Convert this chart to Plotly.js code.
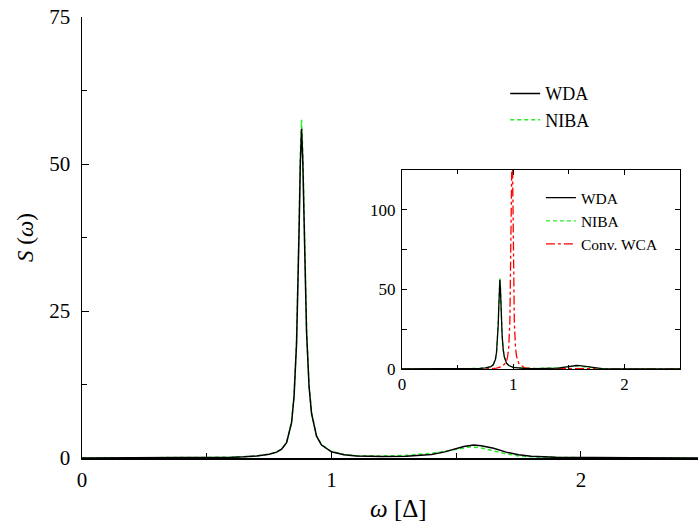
<!DOCTYPE html>
<html>
<head>
<meta charset="utf-8">
<script src="https://cdn.plot.ly/plotly-3.0.1.min.js"></script>
<style>html,body{margin:0;padding:0;background:#fff;}#plot{width:698px;height:523px;}</style>
</head>
<body>
<div id="plot"></div>
<script>
// WDA spectrum
const wdaX = [0, 0.2, 0.4, 0.5, 0.6, 0.65, 0.7, 0.75, 0.78, 0.8, 0.82, 0.84, 0.85, 0.86, 0.865, 0.87, 0.875, 0.88, 0.885, 0.89, 0.895, 0.9, 0.91, 0.92, 0.94, 0.96, 1.0, 1.05, 1.1, 1.2, 1.3, 1.35, 1.4, 1.45, 1.5, 1.53, 1.57, 1.6, 1.65, 1.7, 1.75, 1.8, 1.9, 2.0, 2.2, 2.5];
const wdaY = [0, 0, 0.02, 0.05, 0.12, 0.2, 0.35, 0.65, 1.0, 1.5, 2.6, 6.0, 10.5, 19.5, 27.5, 38.5, 50, 56, 50.5, 39.5, 29, 21.5, 12.2, 7.6, 3.7, 2.2, 1.05, 0.55, 0.35, 0.25, 0.3, 0.4, 0.6, 1.0, 1.6, 1.95, 2.2, 2.1, 1.65, 1.0, 0.55, 0.3, 0.12, 0.06, 0.03, 0.01];
// NIBA spectrum
const nibaX = [0, 0.2, 0.4, 0.5, 0.6, 0.65, 0.7, 0.75, 0.78, 0.8, 0.82, 0.84, 0.85, 0.86, 0.865, 0.87, 0.875, 0.88, 0.885, 0.89, 0.895, 0.9, 0.91, 0.92, 0.94, 0.96, 1.0, 1.05, 1.1, 1.2, 1.3, 1.35, 1.4, 1.45, 1.5, 1.53, 1.55, 1.57, 1.6, 1.65, 1.7, 1.75, 1.8, 1.9, 2.0, 2.2, 2.5];
const nibaY = [0, 0, 0.02, 0.05, 0.12, 0.2, 0.35, 0.65, 1.0, 1.5, 2.6, 6.1, 10.7, 20, 28.2, 39.5, 51.5, 57.5, 52, 40.5, 29.7, 22, 12.4, 7.7, 3.8, 2.3, 1.1, 0.6, 0.4, 0.35, 0.45, 0.6, 0.8, 1.1, 1.5, 1.75, 1.85, 1.85, 1.7, 1.2, 0.7, 0.35, 0.2, 0.08, 0.04, 0.02, 0.01];
// Conventional WCA spectrum (inset only)
const wcaX = [0, 0.5, 0.7, 0.8, 0.85, 0.88, 0.9, 0.92, 0.94, 0.95, 0.96, 0.97, 0.975, 0.98, 0.985, 0.99, 0.995, 1.0, 1.005, 1.01, 1.02, 1.03, 1.05, 1.08, 1.1, 1.2, 1.5, 2.0, 2.5];
const wcaY = [0, 0, 0.05, 0.2, 0.5, 1.0, 1.6, 3.0, 4.5, 8, 14, 30, 50, 80, 115, 150, 120, 80, 50, 30, 14, 8, 3.5, 1.5, 0.8, 0.25, 0.1, 0.03, 0];

const legendNames = ['WDA', 'NIBA', 'Conv. WCA'];
const xTitle = '<i>ω</i> [Δ]';
const yTitle = '<i>S</i> (<i>ω</i>)';
const colors = {wda: '#000000', niba: '#22ee22', wca: '#ff0000'};
const nibaDash = '4px,3px';

const traces = [
  {x: nibaX, y: nibaY, name: legendNames[1], type: 'scatter', mode: 'lines', line: {color: colors.niba, width: 1.5, dash: nibaDash}, xaxis: 'x', yaxis: 'y', legend: 'legend', legendrank: 2},
  {x: wdaX, y: wdaY, name: legendNames[0], type: 'scatter', mode: 'lines', line: {color: colors.wda, width: 1.5}, xaxis: 'x', yaxis: 'y', legend: 'legend', legendrank: 1},
  {x: wcaX, y: wcaY, name: legendNames[2], type: 'scatter', mode: 'lines', line: {color: colors.wca, width: 1.3, dash: 'dashdot'}, xaxis: 'x2', yaxis: 'y2', legend: 'legend2', legendrank: 3},
  {x: nibaX, y: nibaY, name: legendNames[1], type: 'scatter', mode: 'lines', line: {color: colors.niba, width: 1.3, dash: nibaDash}, xaxis: 'x2', yaxis: 'y2', legend: 'legend2', legendrank: 2},
  {x: wdaX, y: wdaY, name: legendNames[0], type: 'scatter', mode: 'lines', line: {color: colors.wda, width: 1.3}, xaxis: 'x2', yaxis: 'y2', legend: 'legend2', legendrank: 1}
];
const serif = '"Liberation Serif", "Times New Roman", Times, serif';

const layout = {
  width: 698, height: 523,
  margin: {l: 82, r: 0, t: 17, b: 65},
  paper_bgcolor: '#fff', plot_bgcolor: 'rgba(0,0,0,0)',
  font: {family: serif, color: '#000'},
  showlegend: true,
  xaxis: {
    domain: [0, 1], range: [0, 2.469], anchor: 'y',
    tickmode: 'linear', tick0: 0, dtick: 1,
    ticks: 'inside', ticklen: 7, tickwidth: 1, tickcolor: '#000',
    minor: {dtick: 0.5, ticks: 'inside', ticklen: 5, tickcolor: '#000', showgrid: false},
    showline: true, linewidth: 2, linecolor: '#000', mirror: false,
    showgrid: false, zeroline: false,
    tickfont: {size: 21, family: serif},
    ticklabelstandoff: 2
  },
  yaxis: {
    domain: [0, 1], range: [0, 75], anchor: 'x',
    tickmode: 'linear', tick0: 0, dtick: 25,
    ticks: 'inside', ticklen: 7, tickwidth: 1, tickcolor: '#000',
    minor: {dtick: 12.5, ticks: 'inside', ticklen: 5, tickcolor: '#000', showgrid: false},
    showline: true, linewidth: 1.5, linecolor: '#000', mirror: false,
    showgrid: false, zeroline: false,
    tickfont: {size: 21, family: serif},
    ticklabelstandoff: 6,
    title: {text: yTitle, font: {size: 23, family: serif}, standoff: 9}
  },
  xaxis2: {
    domain: [0.5195, 0.9708], range: [0, 2.5], anchor: 'y2',
    tickmode: 'linear', tick0: 0, dtick: 1,
    ticks: 'inside', ticklen: 5, tickwidth: 1, tickcolor: '#000',
    minor: {dtick: 0.5, ticks: 'inside', ticklen: 4, tickcolor: '#000', showgrid: false},
    showline: true, linewidth: 1, linecolor: '#000', mirror: 'ticks',
    showgrid: false, zeroline: false,
    tickfont: {size: 17, family: serif},
    ticklabelstandoff: 0
  },
  yaxis2: {
    domain: [0.2018, 0.653], range: [0, 125], anchor: 'x2',
    tickmode: 'linear', tick0: 0, dtick: 50,
    ticks: 'inside', ticklen: 5, tickwidth: 1, tickcolor: '#000',
    minor: {dtick: 25, ticks: 'inside', ticklen: 5, tickcolor: '#000', showgrid: false},
    showline: true, linewidth: 1, linecolor: '#000', mirror: 'ticks',
    showgrid: false, zeroline: false,
    tickfont: {size: 17, family: serif},
    ticklabelstandoff: 2
  },
  legend: {
    x: 0.687, y: 0.868, xanchor: 'left', yanchor: 'top',
    bgcolor: 'rgba(0,0,0,0)', borderwidth: 0, traceorder: 'normal',
    font: {size: 18, family: serif}, tracegroupgap: 0
  },
  legend2: {
    x: 0.745, y: 0.628, xanchor: 'left', yanchor: 'top',
    bgcolor: 'rgba(0,0,0,0)', borderwidth: 0, traceorder: 'normal',
    font: {size: 15.5, family: serif}, tracegroupgap: 0
  },
  annotations: [
    {text: xTitle, xref: 'paper', yref: 'paper', x: (398 - 82) / 616, y: -(509 - 458) / 441, xanchor: 'center', yanchor: 'middle', showarrow: false, font: {size: 25, family: serif}}
  ],
  shapes: [
    {type: 'rect', xref: 'paper', yref: 'paper', x0: 0.5195, x1: 0.9708, y0: 0.2018, y1: 0.653, fillcolor: '#fff', line: {width: 0}, layer: 'below'}
  ]
};

Plotly.newPlot('plot', traces, layout, {displayModeBar: false, staticPlot: true});
</script>
</body>
</html>
